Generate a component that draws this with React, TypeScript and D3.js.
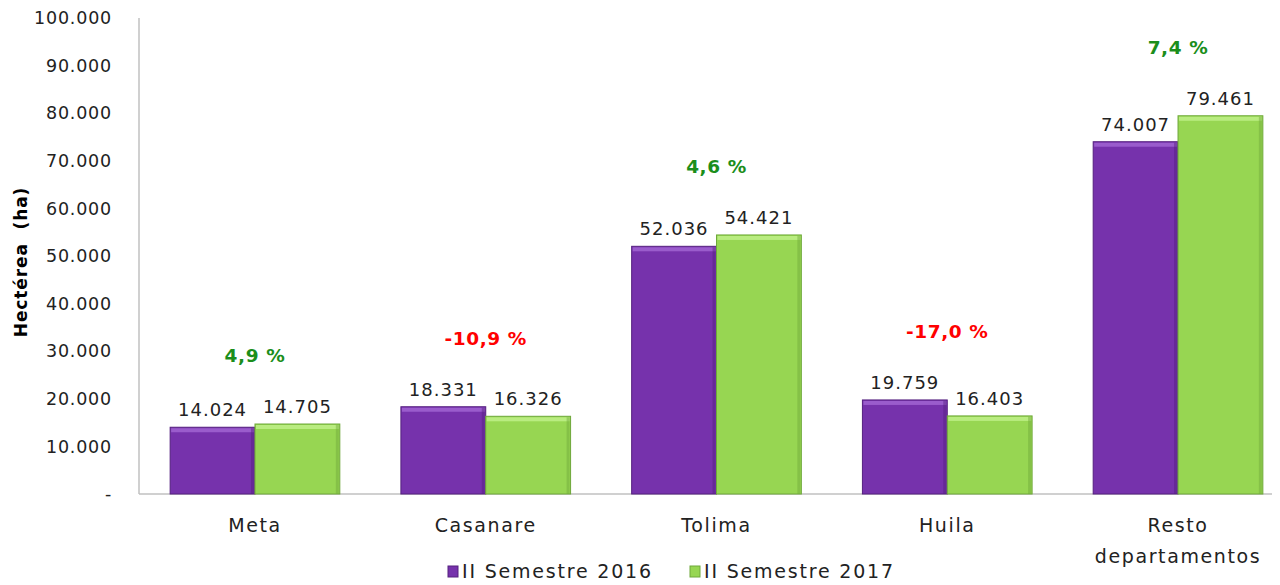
import React from "react";
import * as d3 from "d3";

const categories = ["Meta", "Casanare", "Tolima", "Huila", "Resto departamentos"];
const series2016 = [14024, 18331, 52036, 19759, 74007];
const series2017 = [14705, 16326, 54421, 16403, 79461];
const changes = [4.9, -10.9, 4.6, -17.0, 7.4];
const yTicks = [0, 10000, 20000, 30000, 40000, 50000, 60000, 70000, 80000, 90000, 100000];
const seriesNames = ["II Semestre 2016", "II Semestre 2017"];

const W = 1280;
const H = 585;
const FONT = "'DejaVu Sans', Verdana, sans-serif";
const colors = ["#7632ac", "#97d652"];
const lights = ["#9a5ccc", "#b9ec80"];
const darks = ["#55207f", "#6ea83a"];

const fmt = (v: number) =>
  v === 0 ? "-" : d3.format(",")(v).replace(/,/g, ".");

const pct = (v: number) => (v < 0 ? "-" : "") + Math.abs(v).toFixed(1).replace(".", ",") + " %";

export default function App() {
  const x0 = d3.scaleBand<string>().domain(categories).range([139.6, 1293.4]).paddingInner(0).paddingOuter(0);
  const x1 = d3.scaleBand<number>().domain([0, 1]).range([0, x0.bandwidth()]).paddingOuter(0.36).paddingInner(0);
  const y = d3.scaleLinear().domain([0, 100000]).range([494, 18]);
  const data = [series2016, series2017];

  return (
    <svg width={W} height={H} style={{ position: "absolute", left: 0, top: 0, background: "#fff" }} fontFamily={FONT}>
      <line x1={139} x2={139} y1={y(100000)} y2={y(0)} stroke="#c0c0c0" strokeWidth={1.5} />
      <line x1={139} x2={1272} y1={y(0)} y2={y(0)} stroke="#c0c0c0" strokeWidth={1.5} />
      {yTicks.map((t) => (
        <text key={t} x={112} y={y(t)} dy="0.35em" textAnchor="end" fontSize={17.5} letterSpacing={0.8} fill="#222">
          {fmt(t)}
        </text>
      ))}
      <text
        transform={`translate(27,${y(50000) + 6}) rotate(-90)`}
        textAnchor="middle"
        fontSize={17}
        fontWeight="bold"
        letterSpacing={0.9}
        fill="#000"
        style={{ whiteSpace: "pre" }}
      >
        {"Hectérea  (ha)"}
      </text>

      {categories.map((c, i) => {
        const bx = x0(c)!;
        const cx = bx + x0.bandwidth() / 2;
        const maxV = Math.max(series2016[i], series2017[i]);
        const words = c.split(" ");
        return (
          <g key={c}>
            {data.map((s, k) => {
              const xx = bx + x1(k)!;
              const w = x1.bandwidth();
              const top = y(s[i]);
              const h = y(0) - top;
              return (
                <g key={k}>
                  <rect x={xx} y={top} width={w} height={h} fill={colors[k]} stroke={darks[k]} strokeWidth={1} />
                  <rect x={xx + 1} y={top + 1} width={w - 2} height={4} fill={lights[k]} />
                  <rect x={xx + w - 4} y={top + 1} width={3} height={h - 1} fill={darks[k]} opacity={0.45} />
                  <text x={xx + w / 2} y={top - 11} textAnchor="middle" fontSize={18} letterSpacing={1} fill="#222">
                    {fmt(s[i])}
                  </text>
                </g>
              );
            })}
            <text
              x={cx}
              y={y(maxV) - 62}
              textAnchor="middle"
              fontSize={18.5}
              fontWeight="bold"
              letterSpacing={0.6}
              fill={changes[i] >= 0 ? "#1b8e1b" : "#ff0000"}
            >
              {pct(changes[i])}
            </text>
            {words.length === 1 ? (
              <text x={cx} y={532} textAnchor="middle" fontSize={19} letterSpacing={1.6} fill="#222">
                {c}
              </text>
            ) : (
              <>
                <text x={cx} y={532} textAnchor="middle" fontSize={19} letterSpacing={1.6} fill="#222">
                  {words[0]}
                </text>
                <text x={cx} y={563} textAnchor="middle" fontSize={19} letterSpacing={1.6} fill="#222">
                  {words.slice(1).join(" ")}
                </text>
              </>
            )}
          </g>
        );
      })}

      {seriesNames.map((n, k) => {
        const lx = k === 0 ? 448 : 690;
        return (
          <g key={n}>
            <rect x={lx} y={566} width={10} height={11} fill={colors[k]} stroke={darks[k]} strokeWidth={1} />
            <text x={lx + 14} y={578} fontSize={19} letterSpacing={1.8} fill="#222">
              {n}
            </text>
          </g>
        );
      })}
    </svg>
  );
}
